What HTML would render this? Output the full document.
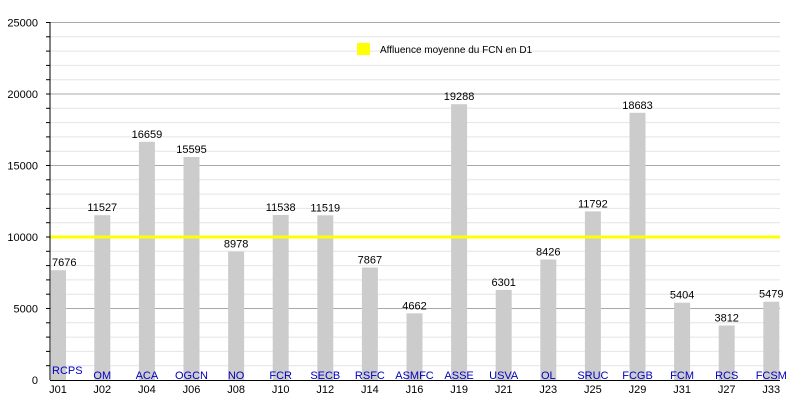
<!DOCTYPE html>
<html><head><meta charset="utf-8"><style>body{margin:0;background:#fff}svg{display:block;font-family:"Liberation Sans",sans-serif;font-size:11px}</style></head><body>
<svg width="800" height="400" xmlns="http://www.w3.org/2000/svg">
<g stroke="#e4e4e4">
<line x1="50" x2="780" y1="365.7" y2="365.7"/><line x1="50" x2="780" y1="351.4" y2="351.4"/><line x1="50" x2="780" y1="337.1" y2="337.1"/><line x1="50" x2="780" y1="322.8" y2="322.8"/>
<line x1="50" x2="780" y1="294.2" y2="294.2"/><line x1="50" x2="780" y1="279.9" y2="279.9"/><line x1="50" x2="780" y1="265.6" y2="265.6"/><line x1="50" x2="780" y1="251.3" y2="251.3"/>
<line x1="50" x2="780" y1="222.7" y2="222.7"/><line x1="50" x2="780" y1="208.4" y2="208.4"/><line x1="50" x2="780" y1="194.1" y2="194.1"/><line x1="50" x2="780" y1="179.8" y2="179.8"/>
<line x1="50" x2="780" y1="151.2" y2="151.2"/><line x1="50" x2="780" y1="136.9" y2="136.9"/><line x1="50" x2="780" y1="122.6" y2="122.6"/><line x1="50" x2="780" y1="108.3" y2="108.3"/>
<line x1="50" x2="780" y1="79.7" y2="79.7"/><line x1="50" x2="780" y1="65.4" y2="65.4"/><line x1="50" x2="780" y1="51.1" y2="51.1"/><line x1="50" x2="780" y1="36.8" y2="36.8"/>
</g>
<g stroke="#a8a8a8">
<line x1="50" x2="780" y1="308.5" y2="308.5"/><line x1="50" x2="780" y1="237" y2="237"/><line x1="50" x2="780" y1="165.5" y2="165.5"/><line x1="50" x2="780" y1="94" y2="94"/><line x1="50" x2="780" y1="22.5" y2="22.5"/>
</g>
<g stroke="#000">
<line x1="46" x2="50" y1="365.7" y2="365.7"/><line x1="46" x2="50" y1="351.4" y2="351.4"/><line x1="46" x2="50" y1="337.1" y2="337.1"/><line x1="46" x2="50" y1="322.8" y2="322.8"/><line x1="46" x2="50" y1="308.5" y2="308.5"/>
<line x1="46" x2="50" y1="294.2" y2="294.2"/><line x1="46" x2="50" y1="279.9" y2="279.9"/><line x1="46" x2="50" y1="265.6" y2="265.6"/><line x1="46" x2="50" y1="251.3" y2="251.3"/><line x1="46" x2="50" y1="237" y2="237"/>
<line x1="46" x2="50" y1="222.7" y2="222.7"/><line x1="46" x2="50" y1="208.4" y2="208.4"/><line x1="46" x2="50" y1="194.1" y2="194.1"/><line x1="46" x2="50" y1="179.8" y2="179.8"/><line x1="46" x2="50" y1="165.5" y2="165.5"/>
<line x1="46" x2="50" y1="151.2" y2="151.2"/><line x1="46" x2="50" y1="136.9" y2="136.9"/><line x1="46" x2="50" y1="122.6" y2="122.6"/><line x1="46" x2="50" y1="108.3" y2="108.3"/><line x1="46" x2="50" y1="94" y2="94"/>
<line x1="46" x2="50" y1="79.7" y2="79.7"/><line x1="46" x2="50" y1="65.4" y2="65.4"/><line x1="46" x2="50" y1="51.1" y2="51.1"/><line x1="46" x2="50" y1="36.8" y2="36.8"/><line x1="46" x2="50" y1="22.5" y2="22.5"/>
</g>
<g text-anchor="end">
<text x="38" y="384">0</text><text x="38" y="312.5">5000</text><text x="38" y="241">10000</text><text x="38" y="169.5">15000</text><text x="38" y="98">20000</text><text x="38" y="26.5">25000</text>
</g>
<g fill="#cccccc">
<rect x="51" y="270.2" width="15" height="109.8"/>
<rect x="94.3" y="215.2" width="16" height="164.8"/>
<rect x="138.9" y="141.8" width="16" height="238.2"/>
<rect x="183.5" y="157" width="16" height="223"/>
<rect x="228.1" y="251.6" width="16" height="128.4"/>
<rect x="272.7" y="215" width="16" height="165"/>
<rect x="317.3" y="215.3" width="16" height="164.7"/>
<rect x="361.9" y="267.5" width="16" height="112.5"/>
<rect x="406.5" y="313.3" width="16" height="66.7"/>
<rect x="451.1" y="104.2" width="16" height="275.8"/>
<rect x="495.7" y="289.9" width="16" height="90.1"/>
<rect x="540.3" y="259.5" width="16" height="120.5"/>
<rect x="584.9" y="211.4" width="16" height="168.6"/>
<rect x="629.5" y="112.8" width="16" height="267.2"/>
<rect x="674.1" y="302.7" width="16" height="77.3"/>
<rect x="718.7" y="325.5" width="16" height="54.5"/>
<rect x="763.3" y="301.7" width="16" height="78.3"/>
</g>
<line x1="50" x2="780" y1="237" y2="237" stroke="#ffff00" stroke-width="3"/>
<text x="52" y="266.2">7676</text>
<g text-anchor="middle">
<text x="102.3" y="211.2">11527</text><text x="146.9" y="137.8">16659</text><text x="191.5" y="153">15595</text><text x="236.1" y="247.6">8978</text>
<text x="280.7" y="211">11538</text><text x="325.3" y="211.3">11519</text><text x="369.9" y="263.5">7867</text><text x="414.5" y="309.3">4662</text>
<text x="459.1" y="100.2">19288</text><text x="503.7" y="285.9">6301</text><text x="548.3" y="255.5">8426</text><text x="592.9" y="207.4">11792</text>
<text x="637.5" y="108.8">18683</text><text x="682.1" y="298.7">5404</text><text x="726.7" y="321.5">3812</text><text x="771.3" y="297.7">5479</text>
</g>
<g fill="#0000c0" text-anchor="middle">
<text x="52" y="374" text-anchor="start">RCPS</text>
<text x="102.3" y="379">OM</text><text x="146.9" y="379">ACA</text><text x="191.5" y="379">OGCN</text><text x="236.1" y="379">NO</text>
<text x="280.7" y="379">FCR</text><text x="325.3" y="379">SECB</text><text x="369.9" y="379">RSFC</text><text x="414.5" y="379">ASMFC</text>
<text x="459.1" y="379">ASSE</text><text x="503.7" y="379">USVA</text><text x="548.3" y="379">OL</text><text x="592.9" y="379">SRUC</text>
<text x="637.5" y="379">FCGB</text><text x="682.1" y="379">FCM</text><text x="726.7" y="379">RCS</text><text x="771.3" y="379">FCSM</text>
</g>
<g text-anchor="middle">
<text x="58" y="393">J01</text><text x="102.3" y="393">J02</text><text x="146.9" y="393">J04</text><text x="191.5" y="393">J06</text><text x="236.1" y="393">J08</text>
<text x="280.7" y="393">J10</text><text x="325.3" y="393">J12</text><text x="369.9" y="393">J14</text><text x="414.5" y="393">J16</text>
<text x="459.1" y="393">J19</text><text x="503.7" y="393">J21</text><text x="548.3" y="393">J23</text><text x="592.9" y="393">J25</text>
<text x="637.5" y="393">J29</text><text x="682.1" y="393">J31</text><text x="726.7" y="393">J27</text><text x="771.3" y="393">J33</text>
</g>
<line x1="50" x2="50" y1="22" y2="380" stroke="#000"/>
<line x1="50" x2="780" y1="380.5" y2="380.5" stroke="#000"/>
<rect x="357" y="43" width="13" height="12" fill="#ffff00"/>
<text x="380" y="53" font-size="10">Affluence moyenne du FCN en D1</text>
</svg>
</body></html>
